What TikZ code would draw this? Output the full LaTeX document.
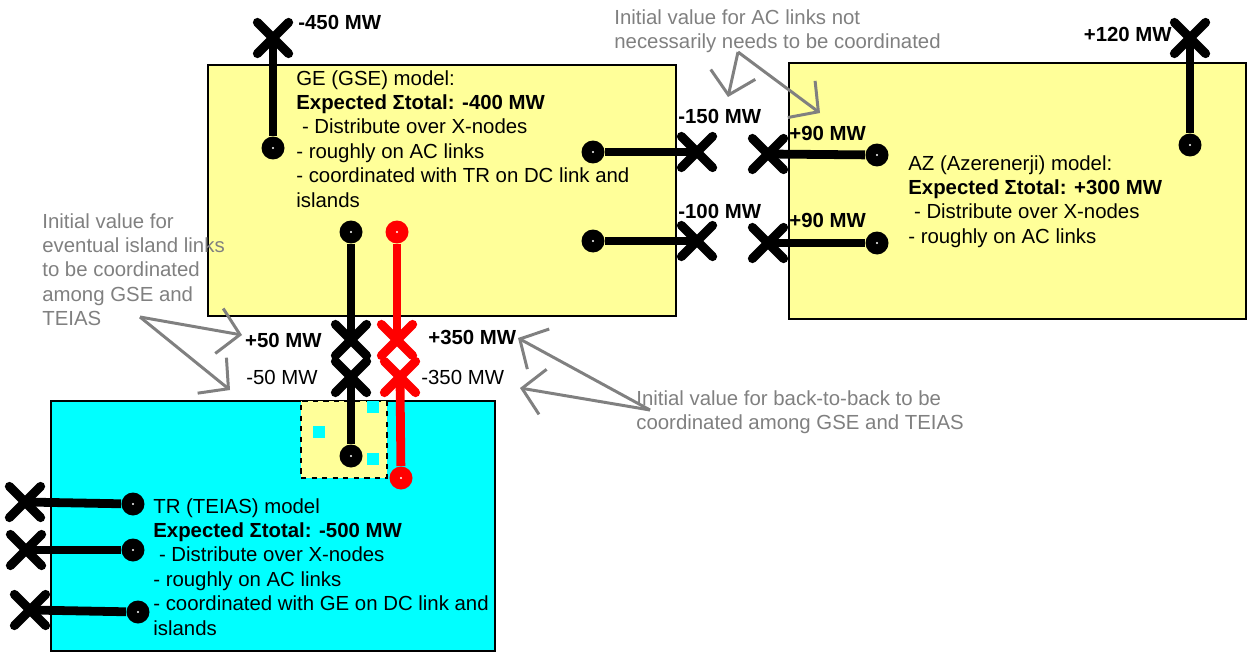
\documentclass[tikz,border=0pt]{standalone}
\usepackage{fontspec}
\setmainfont{Liberation Sans}
\usetikzlibrary{arrows.meta, shapes.misc}

\definecolor{geyellow}{HTML}{FFFF99}
\definecolor{trcyan}{HTML}{00FFFF}
\definecolor{notegray}{HTML}{808080}

\begin{document}
\begin{tikzpicture}[
  x=0.02cm, y=-0.02cm, font=\fontsize{11.6}{13.9}\selectfont,
  model/.style={rectangle, draw, line width=1.4pt, anchor=north west, inner sep=0pt},
  isle/.style={rectangle, draw, dashed, line width=1.2pt, fill=geyellow, anchor=north west, inner sep=0pt},
  sq/.style={rectangle, fill=trcyan, minimum size=0.25cm, inner sep=0pt},
  txt/.style={anchor=north west, align=left, inner sep=0pt},
  note/.style={txt, text=notegray},
  mw/.style={inner sep=0pt, font=\fontsize{11.6}{13.9}\selectfont\bfseries},
  mwn/.style={inner sep=0pt},
  dot/.style={circle, fill, minimum size=0.46cm, inner sep=0pt,
    path picture={\fill[white] (path picture bounding box.center) circle (0.7pt);}},
  xnode/.style={cross out, draw, line width=5.2pt, line cap=round, minimum size=0.44cm, inner sep=0pt},
  link/.style={line width=5pt},
  garrow/.style={draw=notegray, line width=1.7pt, -{Straight Barb[length=12pt, width=26pt]}}
]
  \useasboundingbox (0,0) rectangle (1250,652);

  % model boxes
  \node[model, fill=geyellow, minimum width=9.36cm, minimum height=5.02cm] (ge) at (207,64) {};
  \node[model, fill=geyellow, minimum width=9.14cm, minimum height=5.12cm] (az) at (788,62) {};
  \node[model, fill=trcyan, minimum width=8.88cm, minimum height=5.0cm] (tr) at (50,400) {};
  \node[isle, minimum width=1.72cm, minimum height=1.54cm] (isl) at (300,400) {};
  \node[sq] (sq1) at (373,407) {};
  \node[sq] (sq2) at (319,432) {};
  \node[sq] (sq3) at (373,459) {};

  \node[txt] (getxt) at (296,70) {GE (GSE) model:\\ \textbf{Expected Σtotal: -400 MW}\\ \hspace{0.28em}- Distribute over X-nodes\\ - roughly on AC links\\ - coordinated with TR on DC link and\\ islands};
  \node[txt] (aztxt) at (908,155) {AZ (Azerenerji) model:\\ \textbf{Expected Σtotal: +300 MW}\\ \hspace{0.28em}- Distribute over X-nodes\\ - roughly on AC links};
  \node[txt] (trtxt) at (153,498) {TR (TEIAS) model\\ \textbf{Expected Σtotal: -500 MW}\\ \hspace{0.28em}- Distribute over X-nodes\\ - roughly on AC links\\ - coordinated with GE on DC link and\\ islands};

  % GE links
  \node[dot] (gN) at (273,148) {};
  \node[xnode] (xgN) at (273,38) {};
  \node[dot] (gA1) at (593,152) {};
  \node[xnode] (xgA1) at (697,152) {};
  \node[dot] (gA2) at (593,241) {};
  \node[xnode] (xgA2) at (697,241) {};
  \node[dot] (gI) at (351,232) {};
  \node[xnode] (xgI) at (351,340) {};
  \node[dot, red] (gB) at (397,232) {};
  \node[xnode, red] (xgB) at (397,340) {};
  \draw[link] (gN) -- (xgN.center);
  \draw[link] (gA1) -- (xgA1.center);
  \draw[link] (gA2) -- (xgA2.center);
  \draw[link] (gI) -- (xgI.center);
  \draw[link, red] (gB) -- (xgB.center);

  % AZ links
  \node[dot] (aN) at (1190,145) {};
  \node[xnode] (xaN) at (1190,38) {};
  \node[dot] (aA1) at (877,155) {};
  \node[xnode] (xaA1) at (768,154) {};
  \node[dot] (aA2) at (877,243) {};
  \node[xnode] (xaA2) at (768,243) {};
  \draw[link] (aN) -- (xaN.center);
  \draw[link] (aA1) -- (xaA1.center);
  \draw[link] (aA2) -- (xaA2.center);

  % TR links
  \node[dot] (tI) at (351,456) {};
  \node[xnode] (xtI) at (351,377) {};
  \node[dot, red] (tB) at (401,478) {};
  \node[xnode, red] (xtB) at (400,377) {};
  \node[dot] (t1) at (133,504) {};
  \node[xnode] (xt1) at (25,502) {};
  \node[dot] (t2) at (133,550) {};
  \node[xnode] (xt2) at (26,550) {};
  \node[dot] (t3) at (138,612) {};
  \node[xnode] (xt3) at (30,610) {};
  \draw[link] (tI) -- (xtI.center);
  \draw[link, red] (tB) -- (xtB.center);
  \draw[link] (t1) -- (xt1.center);
  \draw[link] (t2) -- (xt2.center);
  \draw[link] (t3) -- (xt3.center);

  % values
  \node[mw, anchor=west] (l450) at (298,22) {-450 MW};
  \node[mw, anchor=west] (l150) at (678,116) {-150 MW};
  \node[mw, anchor=west] (l100) at (678,211) {-100 MW};
  \node[mw, anchor=east] (l120) at (1172,34) {+120 MW};
  \node[mw, anchor=west] (l90a) at (789,133) {+90 MW};
  \node[mw, anchor=west] (l90b) at (789,220) {+90 MW};
  \node[mw, anchor=east] (l50) at (322,340) {+50 MW};
  \node[mwn, anchor=east] (l50n) at (318,377) {-50 MW};
  \node[mw, anchor=west] (l350) at (428,337) {+350 MW};
  \node[mwn, anchor=west] (l350n) at (421,377) {-350 MW};

  % notes
  \node[note] (acnote) at (614,9) {Initial value for AC links not\\ necessarily needs to be coordinated};
  \node[note] (islnote) at (42,213) {Initial value for\\ eventual island links\\ to be coordinated\\ among GSE and\\ TEIAS};
  \node[note] (b2bnote) at (636,390) {Initial value for back-to-back to be\\ coordinated among GSE and TEIAS};
  \coordinate (acfrom) at (738,52);
  \coordinate (actip1) at (728,97);
  \coordinate (actip2) at (820,113);
  \coordinate (islfrom) at (140,317);
  \coordinate (isltip1) at (242,335);
  \coordinate (isltip2) at (230,390);
  \coordinate (b2bfrom) at (650,410);
  \coordinate (b2btip1) at (518,338);
  \coordinate (b2btip2) at (520,388);
  \draw[garrow] (acfrom) -- (actip1);
  \draw[garrow] (acfrom) -- (actip2);
  \draw[garrow] (islfrom) -- (isltip1);
  \draw[garrow] (islfrom) -- (isltip2);
  \draw[garrow] (b2bfrom) -- (b2btip1);
  \draw[garrow] (b2bfrom) -- (b2btip2);
\end{tikzpicture}
\end{document}
